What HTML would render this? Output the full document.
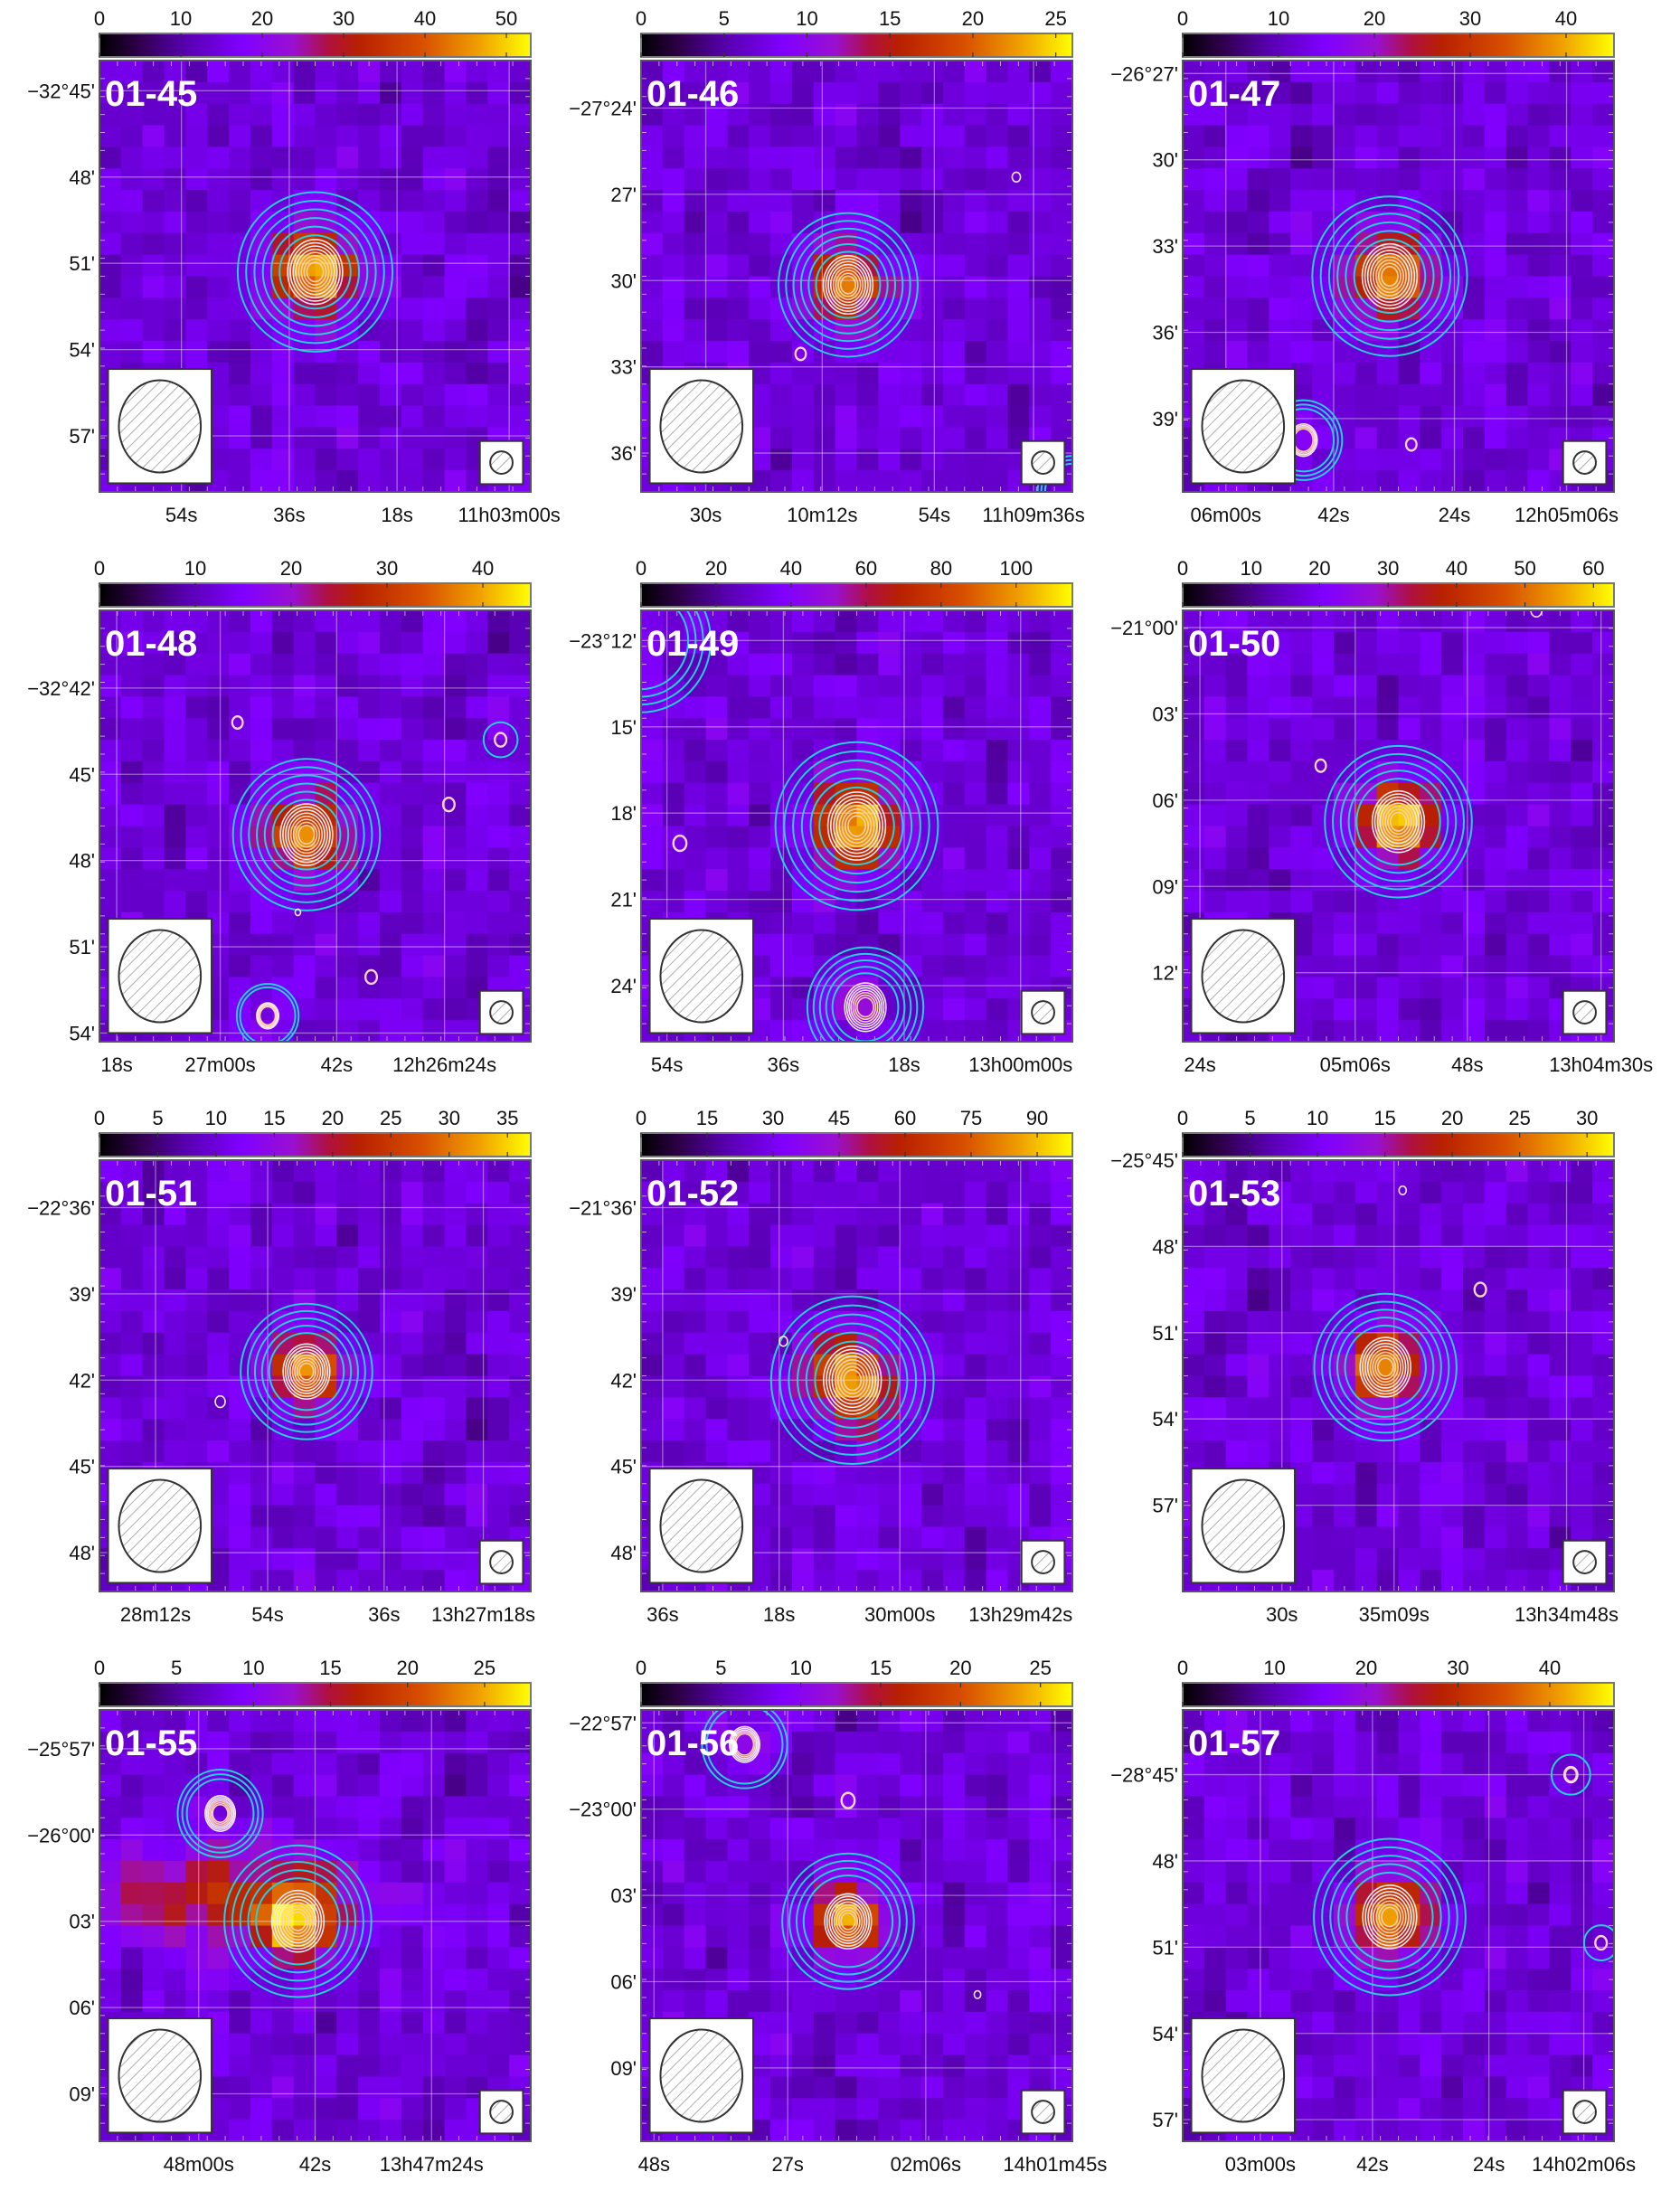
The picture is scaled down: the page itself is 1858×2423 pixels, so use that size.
<!DOCTYPE html>
<html><head><meta charset="utf-8"><style>
html,body{margin:0;padding:0;background:#fff;}
svg text{font-family:"Liberation Sans","DejaVu Sans",sans-serif;}
</style></head><body>
<svg id="fig" xmlns="http://www.w3.org/2000/svg" width="1858" height="2418" viewBox="0 0 1858 2418">
<defs>
<pattern id="hatch" patternUnits="userSpaceOnUse" width="9" height="9" patternTransform="rotate(45)">
<line x1="0" y1="0" x2="0" y2="9" stroke="#999" stroke-width="1.6"/>
</pattern>
<linearGradient id="cmap" x1="0" x2="1" y1="0" y2="0">
<stop offset="0" stop-color="#000000"/><stop offset="0.08" stop-color="#2a0040"/>
<stop offset="0.2" stop-color="#5800b0"/><stop offset="0.33" stop-color="#8000ff"/>
<stop offset="0.45" stop-color="#9a10d0"/><stop offset="0.53" stop-color="#b01040"/>
<stop offset="0.6" stop-color="#b82000"/><stop offset="0.75" stop-color="#d85000"/>
<stop offset="0.88" stop-color="#f0a000"/><stop offset="1" stop-color="#ffff00"/>
</linearGradient>
</defs>
</svg>
<script>
const panelNames=["01-45","01-46","01-47","01-48","01-49","01-50","01-51","01-52","01-53","01-55","01-56","01-57"];
const cbMax=[53,26,45,45,115,63,37,98,32,28,27,47];
const cbTicks=[[0,10,20,30,40,50],[0,5,10,15,20,25],[0,10,20,30,40],[0,10,20,30,40],[0,20,40,60,80,100],[0,10,20,30,40,50,60],[0,5,10,15,20,25,30,35],[0,15,30,45,60,75,90],[0,5,10,15,20,25,30],[0,5,10,15,20,25],[0,5,10,15,20,25],[0,10,20,30,40]];
const yLabels=[["−32°45'","48'","51'","54'","57'"],["−27°24'","27'","30'","33'","36'"],["−26°27'","30'","33'","36'","39'"],["−32°42'","45'","48'","51'","54'"],["−23°12'","15'","18'","21'","24'"],["−21°00'","03'","06'","09'","12'"],["−22°36'","39'","42'","45'","48'"],["−21°36'","39'","42'","45'","48'"],["−25°45'","48'","51'","54'","57'"],["−25°57'","−26°00'","03'","06'","09'"],["−22°57'","−23°00'","03'","06'","09'"],["−28°45'","48'","51'","54'","57'"]];
const yFirst=[0.07,0.11,0.03,0.18,0.07,0.04,0.11,0.11,0.0,0.09,0.03,0.15];
const xLabels=[["54s","36s","18s","11h03m00s"],["30s","10m12s","54s","11h09m36s"],["06m00s","42s","24s","12h05m06s"],["18s","27m00s","42s","12h26m24s"],["54s","36s","18s","13h00m00s"],["24s","05m06s","48s","13h04m30s"],["28m12s","54s","36s","13h27m18s"],["36s","18s","30m00s","13h29m42s"],["30s","35m09s","13h34m48s"],["48m00s","42s","13h47m24s"],["48s","27s","02m06s","14h01m45s"],["03m00s","42s","24s","14h02m06s"]];
const xTicks=[[0.19,0.44,0.69,0.95],[0.15,0.42,0.68,0.91],[0.10,0.35,0.63,0.89],[0.04,0.28,0.55,0.80],[0.06,0.33,0.61,0.88],[0.04,0.40,0.66,0.97],[0.13,0.39,0.66,0.89],[0.05,0.32,0.60,0.88],[0.23,0.49,0.89],[0.23,0.50,0.77],[0.03,0.34,0.66,0.96],[0.18,0.44,0.71,0.93]];
const srcPanel=[0,1,1,1,1,2,2,2,3,3,3,3,3,3,3,4,4,4,4,5,5,5,6,6,7,7,8,8,8,9,9,9,10,10,10,10,11,11,11];
const srcX=[0.50,0.48,0.87,0.37,1.0,0.48,0.28,0.53,0.48,0.32,0.93,0.81,0.63,0.39,0.46,0.50,0.52,0.09,0.0,0.50,0.32,0.82,0.48,0.28,0.49,0.33,0.47,0.69,0.51,0.46,0.28,0.28,0.48,0.24,0.48,0.78,0.48,0.90,0.97];
const srcY=[0.49,0.52,0.27,0.68,1.0,0.50,0.88,0.89,0.52,0.26,0.30,0.45,0.85,0.94,0.70,0.50,0.92,0.54,0.07,0.49,0.36,0.0,0.49,0.56,0.51,0.42,0.48,0.30,0.07,0.49,0.24,0.43,0.49,0.08,0.21,0.66,0.48,0.15,0.54];
const srcPeak=[0.72,0.62,0,0,0,0.62,0.1,0,0.62,0,0,0,0,0.05,0,0.68,0.15,0,0,0.7,0,0,0.62,0,0.68,0,0.62,0,0,0.58,0,0.32,0.6,0.08,0,0,0.6,0,0];
const srcSize=[1,0.9,0.15,0.2,0.45,1,0.5,0.2,0.95,0.2,0.22,0.22,0.22,0.4,0.1,1.05,0.75,0.25,0.9,0.95,0.2,0.2,0.85,0.18,1.05,0.15,0.92,0.22,0.13,0.95,0.55,0,0.85,0.55,0.25,0.12,0.98,0.25,0.22];
const srcCyan=[6,6,0,0,3,6,3,0,6,0,1,0,0,2,0,6,5,0,4,5,0,0,5,0,6,0,5,0,0,5,3,0,4,2,0,0,5,1,1];
const srcWhite=[8,8,1,2,0,8,4,2,8,2,2,2,2,4,1,8,7,2,0,8,2,1,8,1,8,1,8,2,1,8,6,0,8,5,2,1,8,3,2];
const bgRows=["57362846517394628573","46281735926481537264","73519264837251946382","25846173592638415729","61937482615947283651","38274915364825179436","94615283749163528417","27493618257394861532","85162739481527396284","43728561934682715943","16954372816359428671","72381649527148396254","59416827365921847316","34867152948376152489","81529436715284963127","26743915862437519846","67158293476915382764","49236581734862917358","15872364951738264195","83461729584163729538"];
</script>
<script>
const svg=document.getElementById('fig');
const NS='http://www.w3.org/2000/svg';
const colX=[110,709,1308], rowY=[37,645,1253,1861];
const W=477,H=477,CBH=26,GAP=4,NC=20;
const stops=[[0,[0,0,0]],[0.08,[42,0,64]],[0.2,[88,0,176]],[0.33,[128,0,255]],[0.45,[154,16,208]],[0.53,[176,16,64]],[0.6,[184,32,0]],[0.75,[216,80,0]],[0.88,[240,160,0]],[1,[255,255,0]]];
function cmap(t){t=Math.max(0,Math.min(1,t));for(let i=1;i<stops.length;i++){if(t<=stops[i][0]){const a=stops[i-1],b=stops[i],f=(t-a[0])/(b[0]-a[0]);return 'rgb('+a[1].map((v,k)=>Math.round(v+(b[1][k]-v)*f)).join(',')+')';}}return 'rgb(255,255,0)';}
function mk(tag,attrs,parent){const e=document.createElementNS(NS,tag);for(const k in attrs)e.setAttribute(k,attrs[k]);(parent||svg).appendChild(e);return e;}
function tx(str,attrs,parent){const e=mk('text',attrs,parent);e.textContent=str;return e;}
function bgAt(r,c,p){return +bgRows[((r+p*3)%NC+NC)%NC][((c+p*7)%NC+NC)%NC];}
panelNames.forEach((name,p)=>{
  const x0=colX[p%3], cbY=rowY[Math.floor(p/3)], y0=cbY+CBH+GAP;
  const g=mk('g',{});
  
  
  const cb=mk('rect',{x:x0,y:cbY,width:W,height:CBH,fill:'url(#cmap)',stroke:'#777','stroke-width':2},g);
  
  
  cbTicks[p].forEach(v=>{const xx=x0+W*v/cbMax[p];
    mk('line',{x1:xx,x2:xx,y1:cbY+CBH-5,y2:cbY+CBH,stroke:'#333','stroke-width':1.2},g);
    mk('line',{x1:xx,x2:xx,y1:cbY,y2:cbY+5,stroke:'#333','stroke-width':1.2},g);
    const t=tx(String(v),{x:xx,y:cbY-9,'font-size':22,'text-anchor':'middle',fill:'#111'},g);
    
    
  });
  const clipId='clip'+p;
  const cp=mk('clipPath',{id:clipId},g);mk('rect',{x:x0,y:y0,width:W,height:H},cp);
  const hm=mk('g',{'clip-path':'url(#'+clipId+')'},g);
  
  
  const cs=W/NC;
  for(let r=0;r<NC;r++)for(let c=0;c<NC;c++){
    const s=bgAt(r,c,p)*2+bgAt(r+1,c,p)+bgAt(r,c+1,p)+bgAt(r-1,c,p)*0.5+bgAt(r,c-1,p)*0.5;
    let v=0.05+0.009*s;
    const fx=(c+0.5)/NC, fy=(r+0.5)/NC;
    srcPanel.forEach((sp,i)=>{if(sp!==p||!srcPeak[i])return;
      const sx=(i===31)?0.22:0.065*Math.max(srcSize[i],0.8), sy=(i===31)?0.08:0.065*Math.max(srcSize[i],0.8);
      v+=srcPeak[i]*Math.exp(-((fx-srcX[i])**2)/(2*sx*sx)-((fy-srcY[i])**2)/(2*sy*sy));});
    mk('rect',{x:(x0+c*cs).toFixed(2),y:(y0+r*cs).toFixed(2),width:(cs+0.6).toFixed(2),height:(cs+0.6).toFixed(2),fill:cmap(v)},hm);
  }
  xTicks[p].forEach(f=>{const xx=x0+f*W;mk('line',{x1:xx,x2:xx,y1:y0,y2:y0+H,stroke:'#fff','stroke-opacity':0.4,'stroke-width':1.3},hm);});
  yLabels[p].forEach((l,i)=>{const yy=y0+(yFirst[p]+0.2*i)*H;mk('line',{x1:x0,x2:x0+W,y1:yy,y2:yy,stroke:'#fff','stroke-opacity':0.4,'stroke-width':1.3},hm);});
  for(let k=1;k<24;k++){const f=k/24;
    mk('line',{x1:x0+f*W,x2:x0+f*W,y1:y0,y2:y0+6,stroke:'#fff','stroke-opacity':0.6,'stroke-width':1},hm);
    mk('line',{x1:x0+f*W,x2:x0+f*W,y1:y0+H-6,y2:y0+H,stroke:'#fff','stroke-opacity':0.6,'stroke-width':1},hm);
    mk('line',{x1:x0,x2:x0+6,y1:y0+f*H,y2:y0+f*H,stroke:'#fff','stroke-opacity':0.6,'stroke-width':1},hm);
    mk('line',{x1:x0+W-6,x2:x0+W,y1:y0+f*H,y2:y0+f*H,stroke:'#fff','stroke-opacity':0.6,'stroke-width':1},hm);}
  srcPanel.forEach((sp,i)=>{if(sp!==p)return;
    const cx=x0+srcX[i]*W, cy=y0+srcY[i]*H, s=srcSize[i];
    for(let k=0;k<srcCyan[i];k++){const r=s*(0.185-k*0.02)*W;
      const e=mk('ellipse',{cx:cx,cy:cy,rx:(r*0.97).toFixed(1),ry:r.toFixed(1),fill:'none',stroke:'#22d0e0','stroke-width':2},hm);
      
      }
    for(let k=0;k<srcWhite[i];k++){const r=Math.max(2,s*(0.075-k*0.0075)*W);
      const e=mk('ellipse',{cx:cx,cy:cy,rx:(r*0.85).toFixed(1),ry:r.toFixed(1),fill:'none',stroke:k<srcWhite[i]/2?'#f4e8f0':'#ffd0b0','stroke-width':1.6},hm);
      
      }
  });
  const bb=mk('g',{},g);
  
  
  mk('rect',{x:x0+0.02*W,y:y0+0.715*H,width:0.24*W,height:0.265*H,fill:'#fff',stroke:'#333','stroke-width':2},bb);
  mk('ellipse',{cx:x0+0.14*W,cy:y0+0.848*H,rx:0.095*W,ry:0.107*H,fill:'url(#hatch)',stroke:'#333','stroke-width':2},bb);
  const sb=mk('g',{},g);
  
  
  mk('rect',{x:x0+0.882*W,y:y0+0.882*H,width:0.1*W,height:0.1*H,fill:'#fff',stroke:'#333','stroke-width':2},sb);
  mk('circle',{cx:x0+0.932*W,cy:y0+0.932*H,r:0.026*W,fill:'url(#hatch)',stroke:'#333','stroke-width':2},sb);
  mk('rect',{x:x0,y:y0,width:W,height:H,fill:'none',stroke:'#555','stroke-width':2},g);
  const lab=tx(name,{x:x0+6,y:y0+50,'font-size':40,'font-weight':'bold',fill:'#fff'},g);
  
  
  yLabels[p].forEach((l,i)=>{const yy=y0+(yFirst[p]+0.2*i)*H;
    const t=tx(l,{x:x0-5,y:yy+8,'font-size':22,'text-anchor':'end',fill:'#111'},g);
    
    });
  xLabels[p].forEach((l,i)=>{const xx=x0+xTicks[p][i]*W;
    const t=tx(l,{x:xx,y:y0+H+33,'font-size':22,'text-anchor':'middle',fill:'#111'},g);
    
    });
});
</script>
</body></html>
